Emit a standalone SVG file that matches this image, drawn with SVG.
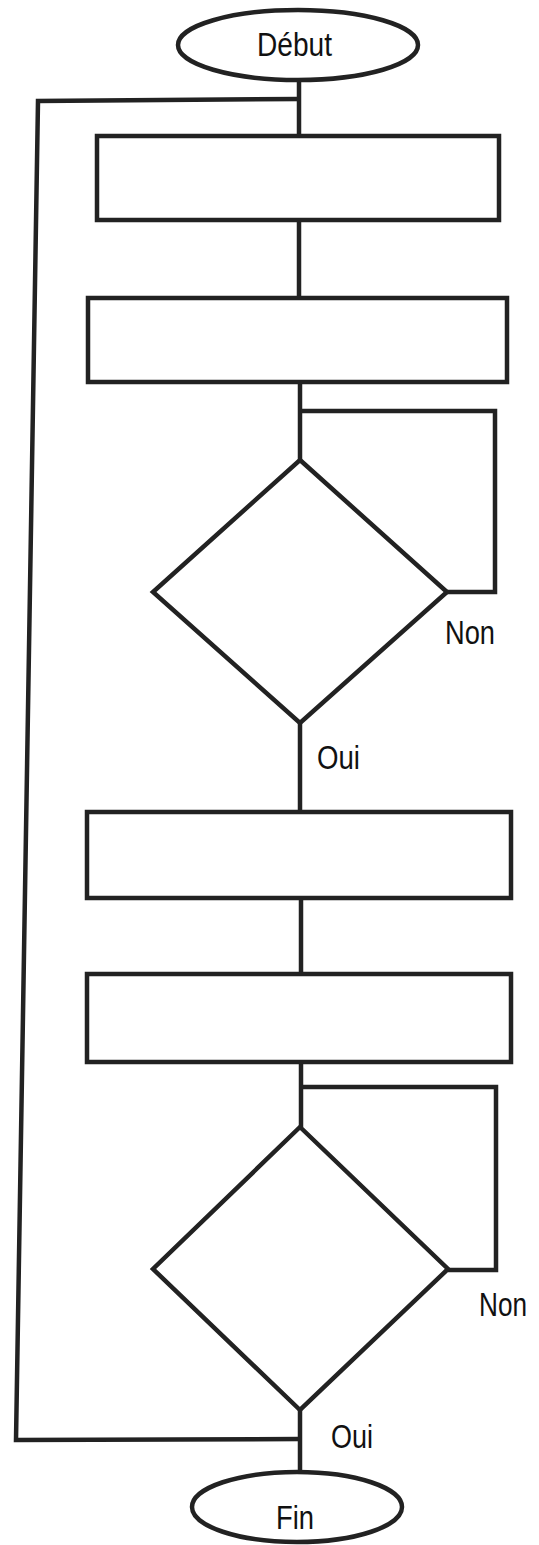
<svg xmlns="http://www.w3.org/2000/svg" width="539" height="1545" viewBox="0 0 539 1545">
<style>
.s{fill:#fff;stroke:#222;stroke-width:4.5;stroke-linejoin:miter}
.c{fill:none;stroke:#222;stroke-width:4.5;stroke-linejoin:miter}
.t{font-family:"Liberation Sans",Arial,sans-serif;font-size:33px;fill:#111}
</style>
<rect width="539" height="1545" fill="#fff"/>
<g id="connectors">
<path class="c" d="M299 80 V136"/>
<path class="c" d="M299 99 L38 101 L16 1440 L300 1439"/>
<path class="c" d="M299 220 V298"/>
<path class="c" d="M300 382 V460"/>
<path class="c" d="M300 411 H495 V592 H447"/>
<path class="c" d="M300 723 V812"/>
<path class="c" d="M301 898 V974"/>
<path class="c" d="M301 1062 V1127"/>
<path class="c" d="M301 1087 H496 V1270 H448"/>
<path class="c" d="M300 1410 V1472"/>
</g>
<g id="start">
<ellipse class="s" cx="298" cy="45" rx="120" ry="35"/>
<text class="t" x="257" y="56" textLength="75" lengthAdjust="spacingAndGlyphs">Début</text>
</g>
<g id="box1"><rect class="s" x="97" y="136" width="402" height="84"/></g>
<g id="box2"><rect class="s" x="88" y="298" width="419" height="84"/></g>
<g id="decision1">
<polygon class="s" points="300,460 447,592 300,723 153,592"/>
</g>
<g id="label-non1"><text class="t" x="445" y="644" textLength="50" lengthAdjust="spacingAndGlyphs">Non</text></g>
<g id="label-oui1"><text class="t" x="317" y="769" textLength="43" lengthAdjust="spacingAndGlyphs">Oui</text></g>
<g id="box3"><rect class="s" x="87" y="812" width="424" height="86"/></g>
<g id="box4"><rect class="s" x="87" y="974" width="424" height="88"/></g>
<g id="decision2">
<polygon class="s" points="300,1127 448,1269 300,1410 153,1269"/>
</g>
<g id="label-non2"><text class="t" x="479" y="1316" textLength="48" lengthAdjust="spacingAndGlyphs">Non</text></g>
<g id="label-oui2"><text class="t" x="331" y="1448" textLength="42" lengthAdjust="spacingAndGlyphs">Oui</text></g>
<g id="end">
<ellipse class="s" cx="297" cy="1507" rx="105" ry="35"/>
<text class="t" x="276" y="1529" textLength="38" lengthAdjust="spacingAndGlyphs">Fin</text>
</g>
</svg>
